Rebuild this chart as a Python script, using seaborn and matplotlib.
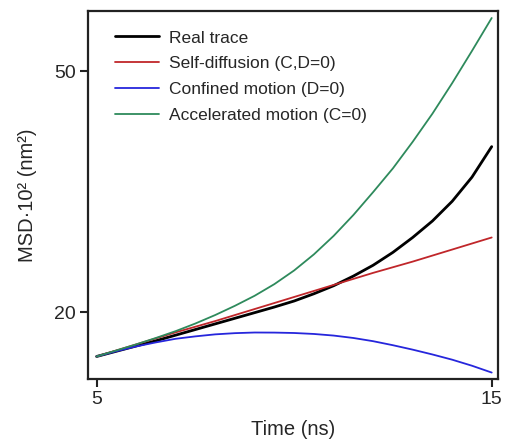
import pandas as pd
import matplotlib.pyplot as plt
import seaborn as sns

# values (MSD x 10^2 in nm^2)
time = [5, 5.5, 6, 6.5, 7, 7.5, 8, 8.5, 9, 9.5, 10,
        10.5, 11, 11.5, 12, 12.5, 13, 13.5, 14, 14.5, 15]
real_trace = [14.5, 15.15, 15.8, 16.45, 17.15, 17.85, 18.55, 19.25, 19.95, 20.65, 21.4,
              22.3, 23.3, 24.5, 25.85, 27.45, 29.3, 31.35, 33.8, 36.8, 40.6]
self_diff = [14.5, 15.25, 16.0, 16.75, 17.5, 18.2, 18.9, 19.65, 20.4, 21.15, 21.9,
             22.65, 23.4, 24.15, 24.9, 25.6, 26.3, 27.05, 27.8, 28.55, 29.3]
confined = [14.5, 15.15, 15.75, 16.25, 16.7, 17.0, 17.25, 17.4, 17.48, 17.47, 17.42,
            17.3, 17.1, 16.8, 16.4, 15.9, 15.35, 14.75, 14.1, 13.35, 12.5]
accelerated = [14.5, 15.25, 16.0, 16.8, 17.65, 18.6, 19.65, 20.8, 22.05, 23.5, 25.2,
               27.2, 29.5, 32.1, 34.95, 37.9, 41.2, 44.7, 48.5, 52.5, 56.6]

labels = ['Real trace', 'Self-diffusion (C,D=0)',
          'Confined motion (D=0)', 'Accelerated motion (C=0)']
colors = ['#000000', '#c0262a', '#2626dc', '#2e8a5c']
widths = [2.0, 1.3, 1.3, 1.3]

df = pd.concat([
    pd.DataFrame({'time': time, 'msd': vals, 'model': lab})
    for vals, lab in zip([real_trace, self_diff, confined, accelerated], labels)
])

sns.set_style('ticks')
plt.rcParams['font.family'] = ['Liberation Sans', 'DejaVu Sans']

fig = plt.figure(figsize=(5.06, 4.43), dpi=100)
ax = fig.add_axes([0.1745, 0.1445, 0.8105, 0.8305])

sns.lineplot(data=df, x='time', y='msd', hue='model', hue_order=labels,
             palette=colors, ax=ax, legend=True)
for line, w in zip(ax.lines, widths):
    line.set_linewidth(w)
    line.set_solid_capstyle('round')
    line.set_solid_joinstyle('round')

ax.set_xlim(4.79, 15.17)
ax.set_ylim(11.7, 57.46)
ax.set_xticks([5, 15])
ax.set_yticks([20, 50])
ax.tick_params(labelsize=14, width=1.5, length=6, color='#222222', pad=3)
ax.set_xlabel('Time (ns)', fontsize=14.5, labelpad=8)
ax.set_ylabel('MSD·10² (nm²)', fontsize=14.5, labelpad=12)
for sp in ax.spines.values():
    sp.set_linewidth(1.6)
    sp.set_color('#222222')

leg = ax.legend(loc='upper left', bbox_to_anchor=(0.028, 0.99), frameon=False,
                fontsize=12.5, handlelength=2.5, handletextpad=0.57,
                labelspacing=0.61)
for h, w in zip(leg.get_lines(), widths):
    h.set_linewidth(w)

fig.savefig('out.png', dpi=100)
